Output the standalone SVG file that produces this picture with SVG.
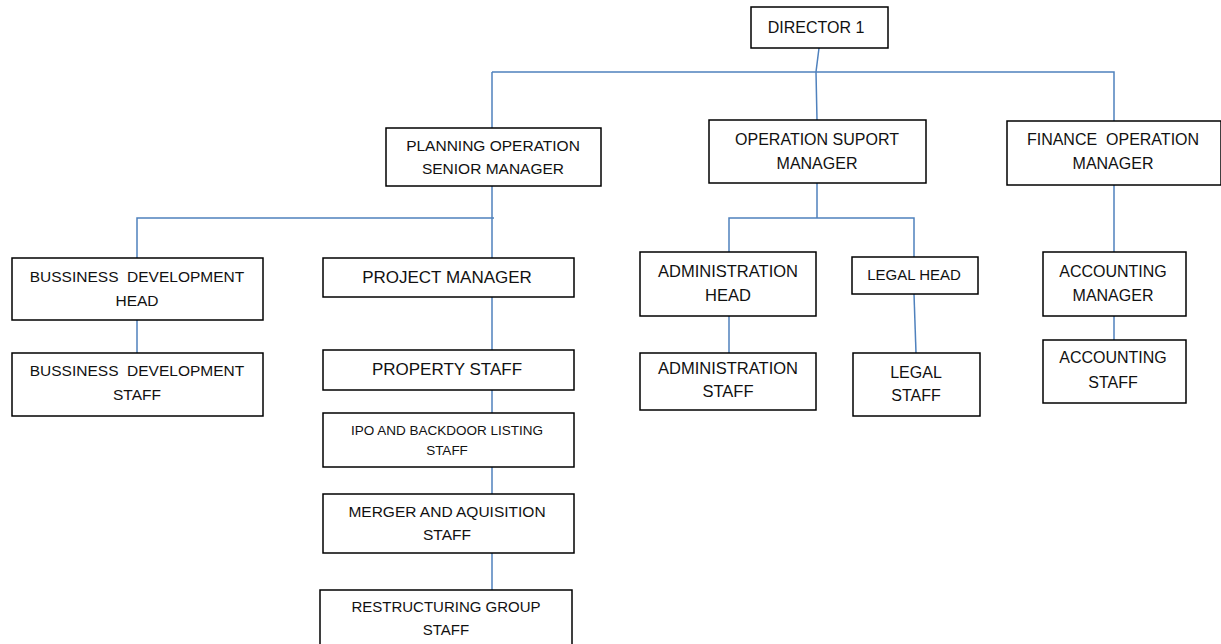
<svg xmlns="http://www.w3.org/2000/svg" width="1221" height="644" viewBox="0 0 1221 644">
<style>
rect{fill:#fff;stroke:#000;stroke-width:1.5}
text{font-family:"Liberation Sans",Arial,sans-serif;font-size:16px;fill:#111;text-anchor:middle}
.big{font-size:17px}
.sm{font-size:13.5px}
.m{font-size:15.5px}
.s{font-size:15px}
.l{font-size:16.5px}
#connectors path{fill:none;stroke:#4f81bd;stroke-width:1.5}
</style>
<rect x="0" y="0" width="1221" height="644" style="stroke:none"/>
<g id="connectors">
<path d="M819 48 L816 72 L817 120"/>
<path d="M492 72 H1114 V121"/>
<path d="M492 72 V128"/>
<path d="M492 186 V258"/>
<path d="M137 258 V218 H494"/>
<path d="M137 320 V353"/>
<path d="M492 297 V350"/>
<path d="M492 390 V413"/>
<path d="M492 467 V494"/>
<path d="M492 553 V590"/>
<path d="M817 183 V218"/>
<path d="M729 252 V218 H914 V257"/>
<path d="M729 316 V353"/>
<path d="M914 294 L916 353"/>
<path d="M1114 185 V252"/>
<path d="M1114 316 V340"/>
</g>
<g id="director"><rect x="751" y="7" width="137" height="41"/><text x="816" y="33">DIRECTOR 1</text></g>
<g id="planning"><rect x="386" y="128" width="215" height="58"/><text class="m" x="493" y="151">PLANNING OPERATION</text><text class="m" x="493" y="174">SENIOR MANAGER</text></g>
<g id="opsupport"><rect x="709" y="120" width="217" height="63"/><text x="817" y="145">OPERATION SUPORT</text><text x="817" y="169">MANAGER</text></g>
<g id="finance"><rect x="1007" y="121" width="214" height="64"/><text x="1113" y="145">FINANCE&#160; OPERATION</text><text x="1113" y="169">MANAGER</text></g>
<g id="bizdevhead"><rect x="12" y="258" width="251" height="62"/><text class="m" x="137" y="282">BUSSINESS&#160; DEVELOPMENT</text><text class="m" x="137" y="306">HEAD</text></g>
<g id="projectmanager"><rect x="323" y="258" width="251" height="39"/><text class="big" x="447" y="283">PROJECT MANAGER</text></g>
<g id="bizdevstaff"><rect x="12" y="353" width="251" height="63"/><text class="m" x="137" y="376">BUSSINESS&#160; DEVELOPMENT</text><text class="m" x="137" y="400">STAFF</text></g>
<g id="propertystaff"><rect x="323" y="350" width="251" height="40"/><text class="big" x="447" y="375">PROPERTY STAFF</text></g>
<g id="ipo"><rect x="323" y="413" width="251" height="54"/><text class="sm" x="447" y="435">IPO AND BACKDOOR LISTING</text><text class="sm" x="447" y="455">STAFF</text></g>
<g id="merger"><rect x="323" y="494" width="251" height="59"/><text class="m" x="447" y="517">MERGER AND AQUISITION</text><text class="m" x="447" y="540">STAFF</text></g>
<g id="restructuring"><rect x="320" y="590" width="252" height="60"/><text class="s" x="446" y="612">RESTRUCTURING GROUP</text><text class="s" x="446" y="635">STAFF</text></g>
<g id="adminhead"><rect x="640" y="252" width="176" height="64"/><text class="l" x="728" y="277">ADMINISTRATION</text><text class="l" x="728" y="301">HEAD</text></g>
<g id="adminstaff"><rect x="640" y="353" width="176" height="57"/><text class="l" x="728" y="374">ADMINISTRATION</text><text class="l" x="728" y="397">STAFF</text></g>
<g id="legalhead"><rect x="852" y="257" width="126" height="37"/><text class="s" x="914" y="280">LEGAL HEAD</text></g>
<g id="legalstaff"><rect x="853" y="353" width="127" height="63"/><text x="916" y="378">LEGAL</text><text x="916" y="401">STAFF</text></g>
<g id="acctmanager"><rect x="1043" y="252" width="143" height="64"/><text x="1113" y="277">ACCOUNTING</text><text x="1113" y="301">MANAGER</text></g>
<g id="acctstaff"><rect x="1043" y="340" width="143" height="63"/><text x="1113" y="363">ACCOUNTING</text><text x="1113" y="388">STAFF</text></g>
</svg>
